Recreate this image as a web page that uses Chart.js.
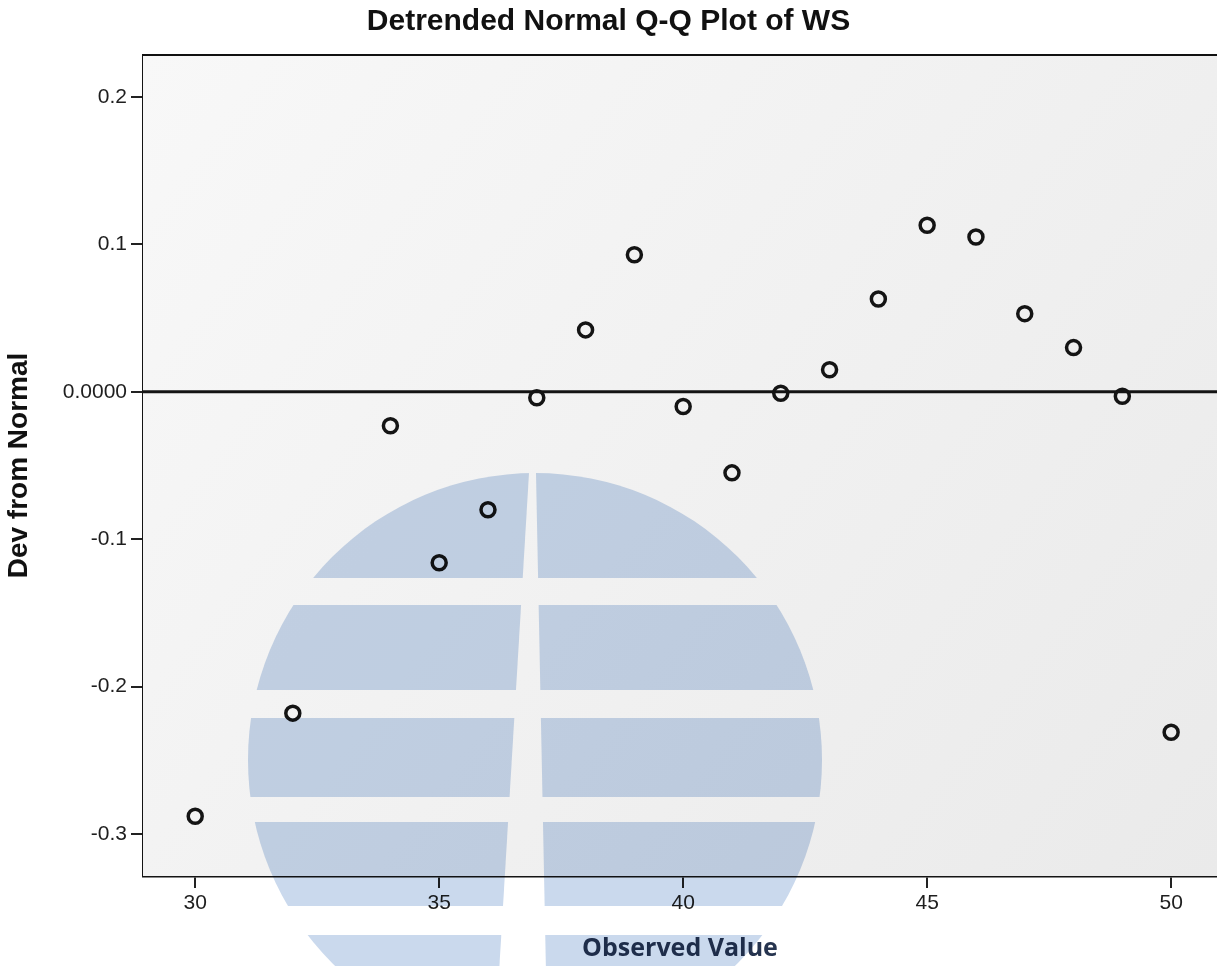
<!DOCTYPE html>
<html>
<head>
<meta charset="utf-8">
<script src="https://cdn.jsdelivr.net/npm/chart.js@4"></script>
<style>
  html, body { margin: 0; padding: 0; background: #ffffff; }
  #wrap { width: 1217px; height: 966px; }
</style>
</head>
<body>
<div id="wrap"><canvas id="qq-chart" width="1217" height="966"></canvas></div>
<script>
// values
var observedValues = [30, 32, 34, 35, 36, 37, 38, 39, 40, 41, 42, 43, 44, 45, 46, 47, 48, 49, 50];
var devFromNormal = [-0.288, -0.218, -0.023, -0.116, -0.080, -0.004, 0.042, 0.093, -0.010, -0.055,
                     -0.001, 0.015, 0.063, 0.113, 0.105, 0.053, 0.030, -0.003, -0.231];
var xTickValues = [30, 35, 40, 45, 50];
var yTickValues = [0.2, 0.1, 0, -0.1, -0.2, -0.3];
var yTickLabels = ['0.2', '0.1', '0.0000', '-0.1', '-0.2', '-0.3'];

var xMin = 28.93, xMax = 50.94;
var yMin = -0.3285, yMax = 0.2285;

document.addEventListener('DOMContentLoaded', function(event) {
    renderQQChart();
});

function buildPoints() {
    var pts = [];
    for (let i = 0; i < observedValues.length; i++) {
        pts.push({x: observedValues[i], y: devFromNormal[i]});
    }
    return pts;
}

// plot background + top frame line
var plotFrame = {
    id: 'plotFrame',
    beforeDatasetsDraw: function(chart) {
        var ctx = chart.ctx, a = chart.chartArea;
        ctx.save();
        var g = ctx.createLinearGradient(a.left, a.top, a.right, a.bottom);
        g.addColorStop(0, '#f8f8f8');
        g.addColorStop(1, '#eaeaea');
        ctx.fillStyle = g;
        ctx.fillRect(a.left, a.top, a.right - a.left, a.bottom - a.top);
        ctx.restore();
    },
    afterDraw: function(chart) {
        var ctx = chart.ctx, a = chart.chartArea;
        ctx.save();
        ctx.strokeStyle = '#111';
        ctx.lineWidth = 2;
        ctx.beginPath();
        ctx.moveTo(a.left - 1, a.top);
        ctx.lineTo(a.right, a.top);
        ctx.stroke();
        ctx.restore();
    }
};

// the blue logo watermark over the lower left
var watermark = {
    id: 'watermark',
    afterDraw: function(chart) {
        var ctx = chart.ctx;
        var cx = 535, cy = 760, r = 287;
        var bands = [[473, 578], [605, 690], [718, 797], [822, 906], [935, 966]];
        function gapL(y) { return 529 - (y - 473) * 0.06; }
        function gapR(y) { return 536 + (y - 473) * 0.02; }
        ctx.save();
        ctx.globalCompositeOperation = 'multiply';
        ctx.beginPath();
        ctx.arc(cx, cy, r, 0, Math.PI * 2);
        ctx.clip();
        ctx.fillStyle = 'rgb(202, 217, 237)';
        for (let i = 0; i < bands.length; i++) {
            var y0 = bands[i][0], y1 = bands[i][1];
            ctx.beginPath();
            ctx.moveTo(0, y0);
            ctx.lineTo(gapL(y0), y0);
            ctx.lineTo(gapL(y1), y1);
            ctx.lineTo(0, y1);
            ctx.closePath();
            ctx.fill();
            ctx.beginPath();
            ctx.moveTo(gapR(y0), y0);
            ctx.lineTo(1217, y0);
            ctx.lineTo(1217, y1);
            ctx.lineTo(gapR(y1), y1);
            ctx.closePath();
            ctx.fill();
        }
        ctx.restore();
    }
};

function renderQQChart() {
    var ctx = document.getElementById('qq-chart').getContext('2d');
    new Chart(ctx, {
        type: 'scatter',
        data: {
            datasets: [{
                label: 'WS',
                data: buildPoints(),
                pointRadius: 7,
                pointHoverRadius: 7,
                pointBorderWidth: 3.5,
                pointBorderColor: '#141414',
                pointBackgroundColor: 'rgba(0,0,0,0)'
            }, {
                type: 'line',
                label: 'zero',
                data: [{x: xMin, y: 0}, {x: xMax, y: 0}],
                borderColor: '#141414',
                borderWidth: 3,
                pointRadius: 0
            }]
        },
        options: {
            responsive: false,
            animation: false,
            layout: { padding: 0, autoPadding: false },
            plugins: {
                legend: { display: false },
                tooltip: { enabled: false },
                title: {
                    display: true,
                    text: 'Detrended Normal Q-Q Plot of WS',
                    color: '#111',
                    font: { family: 'Liberation Sans', size: 30, weight: 'bold' },
                    padding: { top: 4, bottom: 15 }
                }
            },
            scales: {
                x: {
                    type: 'linear',
                    min: xMin,
                    max: xMax,
                    afterBuildTicks: function(scale) {
                        scale.ticks = xTickValues.map(function(v) { return {value: v}; });
                    },
                    afterFit: function(scale) { scale.height = 90; },
                    ticks: {
                        color: '#1e1e1e',
                        padding: 3,
                        maxRotation: 0,
                        font: { family: 'Liberation Sans', size: 21 }
                    },
                    grid: { drawOnChartArea: false, drawTicks: true, tickLength: 12, color: '#222', lineWidth: 2 },
                    border: { display: true, color: '#141414', width: 2.5 },
                    title: {
                        display: true,
                        text: 'Observed Value',
                        color: '#26344f',
                        font: { family: 'Open Sans', size: 25, weight: 'bold' },
                        padding: { top: 0, bottom: 2 }
                    }
                },
                y: {
                    type: 'linear',
                    min: yMin,
                    max: yMax,
                    afterBuildTicks: function(scale) {
                        scale.ticks = yTickValues.map(function(v) { return {value: v}; });
                    },
                    afterFit: function(scale) { scale.width = 143; },
                    ticks: {
                        color: '#1e1e1e',
                        padding: 4,
                        font: { family: 'Liberation Sans', size: 21 },
                        callback: function(value) {
                            var i = yTickValues.indexOf(value);
                            return i >= 0 ? yTickLabels[i] : '';
                        }
                    },
                    grid: { drawOnChartArea: false, drawTicks: true, tickLength: 12, color: '#222', lineWidth: 2 },
                    border: { display: true, color: '#141414', width: 2.5 },
                    title: {
                        display: true,
                        text: 'Dev from Normal',
                        color: '#111',
                        font: { family: 'Liberation Sans', size: 28, weight: 'bold' },
                        padding: { top: 2, bottom: 0 }
                    }
                }
            }
        },
        plugins: [plotFrame, watermark]
    });
}
</script>
</body>
</html>
